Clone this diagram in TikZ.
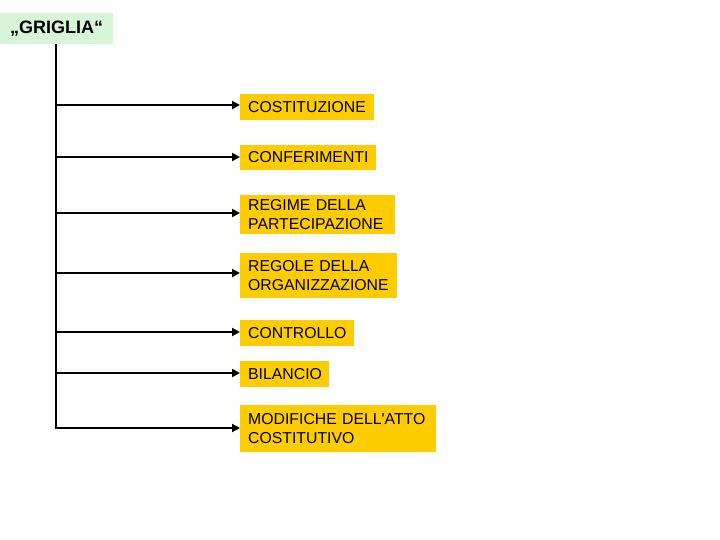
\documentclass[tikz,border=0pt]{standalone}
\usepackage{fontspec}
\setmainfont{Liberation Sans}
\usetikzlibrary{arrows.meta}
\definecolor{gold}{RGB}{255,204,0}
\definecolor{palegreen}{RGB}{217,245,217}
\begin{document}
\begin{tikzpicture}[x=1pt,y=-1pt,
  item/.style={anchor=west,fill=gold,inner xsep=8pt,inner ysep=0pt,align=left,
    font=\fontsize{15.8}{18.5}\selectfont},
  conn/.style={line width=2.6pt,-{Triangle[length=8pt,width=8pt]}}]
\useasboundingbox (0,0) rectangle (720,540);
\node[fill=palegreen,minimum width=113pt,minimum height=31pt,inner sep=0pt,
  font=\bfseries\fontsize{18}{21}\selectfont] (title) at (56.5,28.5) {„GRIGLIA“};
\coordinate (top) at (56,44);
\coordinate (bot) at (56,429.3);
\draw[line width=2.6pt] (top) -- (bot);
\node[item,text width=118pt,minimum height=26pt] (b1) at (240,107) {COSTITUZIONE};
\node[item,text width=120pt,minimum height=25pt] (b2) at (240,157.5) {CONFERIMENTI};
\node[item,text width=139pt,minimum height=39pt] (b3) at (240,214.5) {REGIME DELLA\\PARTECIPAZIONE};
\node[item,text width=141pt,minimum height=45pt] (b4) at (240,275.5) {REGOLE DELLA\\ORGANIZZAZIONE};
\node[item,text width=98pt,minimum height=26pt] (b5) at (240,333) {CONTROLLO};
\node[item,text width=73pt,minimum height=26pt] (b6) at (240,374) {BILANCIO};
\node[item,text width=180pt,minimum height=47pt] (b7) at (240,428.5) {MODIFICHE DELL\textquotesingle ATTO\\COSTITUTIVO};
\coordinate (j1) at (56,105);
\coordinate (j2) at (56,157);
\coordinate (j3) at (56,213);
\coordinate (j4) at (56,273);
\coordinate (j5) at (56,332);
\coordinate (j6) at (56,373);
\coordinate (j7) at (56,428);
\foreach \i in {1,...,7}{
  \draw[conn] (j\i) -- (j\i -| b\i.west);
}
\end{tikzpicture}
\end{document}
